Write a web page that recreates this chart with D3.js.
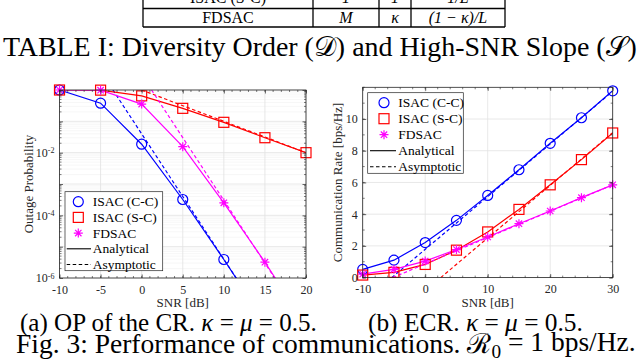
<!DOCTYPE html>
<html>
<head>
<meta charset="utf-8">
<script src="https://cdn.jsdelivr.net/npm/d3@7"></script>
<style>
body { margin: 0; background: #fff; }
svg text { font-family: "Liberation Serif", "Times New Roman", serif; }
</style>
</head>
<body>
<svg id="fig" width="640" height="363"></svg>
<script>
// ---- data ----
// (a) outage probability, markers every 5 dB
var snrOP = [-10, -5, 0, 5, 10, 15, 20];
var opCC = [1, 0.38, 0.0186, 3.2e-4, 3.9e-6, 4e-8, 4e-10];
var opSC = [1, 0.99, 0.65, 0.26, 0.093, 0.030, 0.0100];
var opFD = [1, 0.99, 0.355, 0.0155, 2.5e-4, 3.2e-6, 3e-8];
// asymptotic lines, [snr, value] end points
var asymOPCC = [[-3.5, 1], [15, 4e-8]];
var asymOPSC = [[0, 1], [20, 0.01]];
var asymOPFD = [[1.2, 1], [20, 3e-8]];
var opTicksX = [-10, -5, 0, 5, 10, 15, 20];
var opTicksY = [1e-6, 1e-5, 1e-4, 1e-3, 1e-2, 1e-1, 1];

// (b) ergodic communication rate
var snrRate = [-10, -5, 0, 5, 10, 15, 20, 25, 30];
var rateCC = [0.52, 1.1, 2.21, 3.61, 5.18, 6.8, 8.47, 10.08, 11.78];
var rateSC = [0.16, 0.33, 0.83, 1.73, 2.88, 4.3, 5.85, 7.44, 9.12];
var rateFD = [0.22, 0.52, 1.04, 1.77, 2.56, 3.4, 4.2, 5.04, 5.85];
var asymRateCC = [[-5.36, 0], [30, 11.75]];
var asymRateSC = [[2.48, 0], [30, 9.14]];
var asymRateFD = [[-5.2, 0], [30, 5.85]];
var rateTicksX = [-10, 0, 10, 20, 30];
var rateTicksY = [0, 2, 4, 6, 8, 10];

var legendNames = ["ISAC (C-C)", "ISAC (S-C)", "FDSAC"];
var blue = "#0000ff", red = "#ff0000", magenta = "#ff00ff", ink = "#262626";
var serif = "Liberation Serif";

var svg = d3.select("#fig");

// Draws one marker symbol
function marker(g, type, x, y, color) {
  if (type == "circle") {
    g.append("circle").attr("cx", x).attr("cy", y).attr("r", 5)
      .attr("fill", "none").attr("stroke", color).attr("stroke-width", 1.2);
  } else if (type == "square") {
    g.append("rect").attr("x", x - 5).attr("y", y - 5).attr("width", 10).attr("height", 10)
      .attr("fill", "none").attr("stroke", color).attr("stroke-width", 1.2);
  } else {
    var r = 4.5, d = r * 0.707;
    g.append("path")
      .attr("d", "M" + (x - r) + "," + y + "h" + 2 * r + "M" + x + "," + (y - r) + "v" + 2 * r +
        "M" + (x - d) + "," + (y - d) + "l" + 2 * d + "," + 2 * d +
        "M" + (x - d) + "," + (y + d) + "l" + 2 * d + "," + (-2 * d))
      .attr("stroke", color).attr("stroke-width", 1.2).attr("fill", "none");
  }
}

// Draws one panel: grid, curves, box, ticks
function panel(opt) {
  var x = opt.x, y = opt.y;
  var g = svg.append("g");
  var x0 = x.range()[0], x1 = x.range()[1], yb = y.range()[0], yt = y.range()[1];

  // minor grid
  opt.minorGridY.forEach(function(v) {
    g.append("line").attr("x1", x0).attr("x2", x1).attr("y1", y(v)).attr("y2", y(v))
      .attr("stroke", "#e4e4e4").attr("stroke-width", 0.6).attr("stroke-dasharray", "1,1");
  });
  // major grid
  opt.ticksX.forEach(function(v) {
    g.append("line").attr("x1", x(v)).attr("x2", x(v)).attr("y1", yt).attr("y2", yb)
      .attr("stroke", "#e2e2e2").attr("stroke-width", 0.8);
  });
  opt.ticksY.forEach(function(v) {
    g.append("line").attr("x1", x0).attr("x2", x1).attr("y1", y(v)).attr("y2", y(v))
      .attr("stroke", "#e2e2e2").attr("stroke-width", 0.8);
  });

  var clipId = "clip" + opt.id;
  svg.append("clipPath").attr("id", clipId).append("rect")
    .attr("x", x0).attr("y", yt).attr("width", x1 - x0).attr("height", yb - yt);

  var curves = g.append("g").attr("clip-path", "url(#" + clipId + ")");
  var line = d3.line().x(function(d) { return x(d[0]); }).y(function(d) { return y(d[1]); });

  opt.series.forEach(function(s) {
    curves.append("path").datum(s.asym).attr("d", line)
      .attr("fill", "none").attr("stroke", s.color).attr("stroke-width", 1.2)
      .attr("stroke-dasharray", "3.5,2.5");
    var pts = opt.snr.map(function(v, i) { return [v, s.values[i]]; });
    curves.append("path").datum(pts).attr("d", line)
      .attr("fill", "none").attr("stroke", s.color).attr("stroke-width", 1.2);
  });
  opt.series.forEach(function(s) {
    opt.snr.forEach(function(v, i) {
      var val = s.values[i];
      if (val >= y.domain()[0] && val <= y.domain()[1]) marker(g, s.type, x(v), y(val), s.color);
    });
  });

  // axes with inward ticks
  var bottom = g.append("g").attr("transform", "translate(0," + yb + ")")
    .call(d3.axisBottom(x).tickValues(opt.ticksX).tickSizeInner(-3.5).tickSizeOuter(0)
      .tickPadding(7).tickFormat(function(d) { return String(d); }));
  var top = g.append("g").attr("transform", "translate(0," + yt + ")")
    .call(d3.axisTop(x).tickValues(opt.ticksX).tickSizeInner(-3.5).tickSizeOuter(0).tickFormat(""));
  var left = g.append("g").attr("transform", "translate(" + x0 + ",0)")
    .call(d3.axisLeft(y).tickValues(opt.ticksY).tickSizeInner(-3.5).tickSizeOuter(0)
      .tickPadding(5).tickFormat(opt.formatY));
  var right = g.append("g").attr("transform", "translate(" + x1 + ",0)")
    .call(d3.axisRight(y).tickValues(opt.ticksY).tickSizeInner(-3.5).tickSizeOuter(0).tickFormat(""));

  // minor ticks
  var minorG = g.append("g").attr("stroke", ink).attr("stroke-width", 0.6);
  opt.minorX.forEach(function(v) {
    minorG.append("line").attr("x1", x(v)).attr("x2", x(v)).attr("y1", yb).attr("y2", yb - 2);
    minorG.append("line").attr("x1", x(v)).attr("x2", x(v)).attr("y1", yt).attr("y2", yt + 2);
  });
  opt.minorY.forEach(function(v) {
    minorG.append("line").attr("x1", x0).attr("x2", x0 + 2).attr("y1", y(v)).attr("y2", y(v));
    minorG.append("line").attr("x1", x1).attr("x2", x1 - 2).attr("y1", y(v)).attr("y2", y(v));
  });

  [bottom, top, left, right].forEach(function(a) {
    a.attr("font-family", serif);
    a.select(".domain").remove();
    a.selectAll("line").attr("stroke", ink).attr("stroke-width", 0.7);
    a.selectAll("text").attr("fill", ink).style("font-size", "12px");
  });
  if (opt.superY) {
    left.selectAll(".tick text").each(function(d) {
      var t = d3.select(this).text("");
      var e = Math.round(Math.log10(d));
      if (e % 2 != 0 || e == 0) return;
      t.append("tspan").text("10");
      t.append("tspan").attr("dy", "-0.45em").style("font-size", "8px").text(String(e));
    });
  }

  g.append("rect").attr("x", x0).attr("y", yt).attr("width", x1 - x0).attr("height", yb - yt)
    .attr("fill", "none").attr("stroke", ink).attr("stroke-width", 0.8);

  // axis titles
  g.append("text").attr("x", (x0 + x1) / 2).attr("y", opt.xLabelY).attr("text-anchor", "middle")
    .attr("fill", ink).style("font-size", "13px").text("SNR [dB]");
  g.append("text").attr("transform", "translate(" + opt.yLabelX + "," + (yb + yt) / 2 + ") rotate(-90)")
    .attr("text-anchor", "middle").attr("fill", ink).style("font-size", "13px").text(opt.yLabel);

  // legend
  var L = opt.legend;
  var lg = g.append("g");
  lg.append("rect").attr("x", L.x).attr("y", L.y).attr("width", L.w).attr("height", L.h)
    .attr("fill", "#fff").attr("stroke", ink).attr("stroke-width", 0.7);
  var rows = opt.series.map(function(s, i) { return { name: legendNames[i], s: s }; });
  rows.push({ name: "Analytical", dash: null });
  rows.push({ name: "Asymptotic", dash: "3.5,2.5" });
  rows.forEach(function(r, i) {
    var ry = L.y + L.first + i * L.step;
    if (r.s) {
      marker(lg, r.s.type, L.mx, ry, r.s.color);
    } else {
      lg.append("line").attr("x1", L.lx0).attr("x2", L.lx1).attr("y1", ry).attr("y2", ry)
        .attr("stroke", "#000").attr("stroke-width", 1.1).attr("stroke-dasharray", r.dash);
    }
    lg.append("text").attr("x", L.tx).attr("y", ry + 4.6).attr("fill", "#000")
      .style("font-size", "13.5px").text(r.name);
  });
}

// minor values for the log axis
var minorLog = [];
for (var e = -6; e < 0; e++) {
  for (var k = 2; k < 10; k++) minorLog.push(k * Math.pow(10, e));
}

panel({
  id: "a",
  x: d3.scaleLinear().domain([-10, 20]).range([59.5, 306]),
  y: d3.scaleLog().domain([1e-6, 1]).range([278, 90]),
  snr: snrOP,
  series: [
    { values: opCC, asym: asymOPCC, color: blue, type: "circle" },
    { values: opSC, asym: asymOPSC, color: red, type: "square" },
    { values: opFD, asym: asymOPFD, color: magenta, type: "star" }
  ],
  ticksX: opTicksX, ticksY: opTicksY,
  minorX: d3.range(-10, 21, 1), minorY: minorLog, minorGridY: minorLog,
  superY: true, formatY: function(d) { return ""; },
  xLabelY: 307, yLabelX: 33, yLabel: "Outage Probability",
  legend: { x: 65, y: 191.7, w: 97.7, h: 79, first: 10, step: 15.7, mx: 78.3, tx: 92.7, lx0: 66.7, lx1: 91 }
});

panel({
  id: "b",
  x: d3.scaleLinear().domain([-10, 30]).range([362.7, 612.7]),
  y: d3.scaleLinear().domain([0, 12]).range([277.6, 87.3]),
  snr: snrRate,
  series: [
    { values: rateCC, asym: asymRateCC, color: blue, type: "circle" },
    { values: rateSC, asym: asymRateSC, color: red, type: "square" },
    { values: rateFD, asym: asymRateFD, color: magenta, type: "star" }
  ],
  ticksX: rateTicksX, ticksY: rateTicksY,
  minorX: d3.range(-10, 31, 2), minorY: d3.range(0, 12.01, 1), minorGridY: [],
  superY: false, formatY: function(d) { return String(d); },
  xLabelY: 307, yLabelX: 342, yLabel: "Communication Rate [bps/Hz]",
  legend: { x: 367.7, y: 92.7, w: 95.6, h: 80.6, first: 10, step: 16, mx: 384, tx: 398.3, lx0: 370, lx1: 396 }
});

// ---- table fragment and captions ----
var tableX = [143, 313, 379, 411, 505];
var tg = svg.append("g").attr("stroke", "#000").attr("stroke-width", 1.3);
tableX.forEach(function(v) {
  tg.append("line").attr("x1", v).attr("x2", v).attr("y1", 0).attr("y2", 27);
});
[8.5, 27].forEach(function(v) {
  tg.append("line").attr("x1", tableX[0]).attr("x2", tableX[4]).attr("y1", v).attr("y2", v);
});
var topRow = ["ISAC (S-C)", "1", "1", "1/L"];
var lastRow = ["FDSAC", "M", "\u03ba", "(1 \u2212 \u03ba)/L"];
for (var c = 0; c < 4; c++) {
  var cx = (tableX[c] + tableX[c + 1]) / 2;
  svg.append("text").attr("x", cx).attr("y", 3).attr("text-anchor", "middle")
    .style("font-size", "16px").style("font-style", c == 0 ? "normal" : "italic").text(topRow[c]);
  svg.append("text").attr("x", cx).attr("y", 23).attr("text-anchor", "middle")
    .style("font-size", "16px").style("font-style", c == 0 ? "normal" : "italic").text(lastRow[c]);
}

// Caption line whose font size is scaled to fill a given width
function caption(x, y, size, width, parts) {
  var t = svg.append("text").attr("x", x).attr("y", y).style("font-size", size + "px");
  parts.forEach(function(p) {
    var s = t.append("tspan").text(p[0]);
    if (p[1] == "i") s.style("font-style", "italic");
    if (p[1] == "sub") s.attr("dy", "0.25em").style("font-size", "0.7em");
    if (p[1] == "up") s.attr("dy", "-0.25em");
  });
  var w = t.node().getComputedTextLength();
  t.style("font-size", (size * width / w) + "px");
}

caption(3, 56, 23, 634, [["TABLE I: Diversity Order ("], ["\ud835\udc9f"], [") and High-SNR Slope ("], ["\ud835\udcae"], [")"]]);
caption(20, 331, 19, 297, [["(a) OP of the CR. "], ["\u03ba", "i"], [" = "], ["\u03bc", "i"], [" = 0.5."]]);
caption(368, 331, 19, 215, [["(b) ECR. "], ["\u03ba", "i"], [" = "], ["\u03bc", "i"], [" = 0.5."]]);
caption(16, 353, 21.5, 620, [["Fig. 3: Performance of communications. "], ["\u211b"], ["0", "sub"], [" = 1 bps/Hz.", "up"]]);
</script>
</body>
</html>
